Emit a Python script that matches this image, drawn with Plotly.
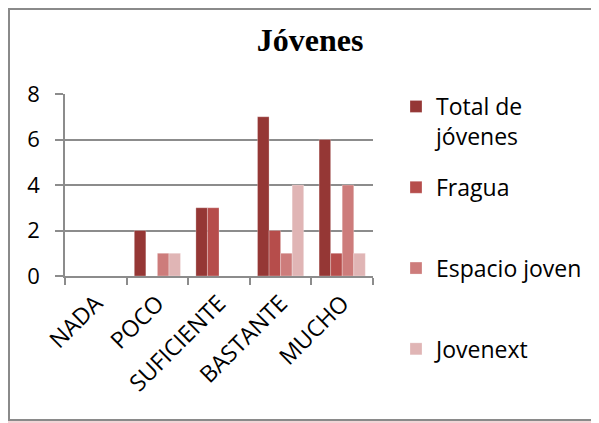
import plotly.graph_objects as go

categories = ["NADA", "POCO", "SUFICIENTE", "BASTANTE", "MUCHO"]
series_names = ["Total de<br>jóvenes", "Fragua<br> ", "Espacio joven<br> ", "Jovenext<br> "]
total_jovenes = [0, 2, 3, 7, 6]
fragua = [0, 0, 3, 2, 1]
espacio_joven = [0, 1, 0, 1, 4]
jovenext = [0, 1, 0, 4, 1]
series_values = [total_jovenes, fragua, espacio_joven, jovenext]
series_colors = ["#953735", "#b64d4b", "#cd7c7b", "#e0b5b5"]

W, H = 599, 423
# the page body adds an 8px margin, so positions below are window pixels minus 8
OFF = 8
PLOT_L, PLOT_R, PLOT_T, PLOT_B = 65 - OFF, 373 - OFF, 94 - OFF, 276 - OFF
FONT = "'Open Sans', Lato, sans-serif"


def px_x(x):
    return (x - OFF - PLOT_L) / (PLOT_R - PLOT_L)


def px_y(y):
    return (PLOT_B - (y - OFF)) / (PLOT_B - PLOT_T)


fig = go.Figure()
for i, (name, values, color) in enumerate(zip(series_names, series_values, series_colors)):
    fig.add_trace(
        go.Bar(
            x=categories,
            y=values,
            name=name,
            legendgroup=f"g{i}",
            marker={"color": color, "line": {"color": "rgba(255,255,255,0.45)", "width": 0.6}},
        )
    )

# white chart area with grey frame
fig.add_shape(
    type="rect",
    xref="paper",
    yref="paper",
    x0=px_x(9),
    x1=px_x(620),
    y0=px_y(420),
    y1=px_y(9),
    line={"color": "#8a8a8a", "width": 2},
    fillcolor="white",
    layer="below",
)

fig.update_layout(
    width=W,
    height=H,
    barmode="group",
    bargap=0.25,
    bargroupgap=0,
    paper_bgcolor="#f2d4d6",
    plot_bgcolor="white",
    margin={"l": PLOT_L, "r": W - PLOT_R, "t": PLOT_T, "b": H - PLOT_B, "pad": 0},
    font={"family": FONT, "color": "#000000", "size": 22},
    title={
        "text": "<b>Jóvenes</b>",
        "font": {"family": "'Liberation Serif', 'Times New Roman', serif", "size": 32, "color": "#000000"},
        "xref": "paper",
        "x": px_x(310),
        "xanchor": "center",
        "yref": "container",
        "y": 1 - (40 - OFF) / H,
        "yanchor": "middle",
    },
    legend={
        "x": px_x(396),
        "xanchor": "left",
        "y": px_y(85),
        "yanchor": "top",
        "maxheight": 400,
        "traceorder": "grouped",
        "tracegroupgap": 18,
        "valign": "top",
        "bgcolor": "rgba(0,0,0,0)",
        "font": {"family": FONT, "size": 23, "color": "#000000"},
    },
    showlegend=True,
)

fig.update_xaxes(
    type="category",
    showgrid=False,
    showline=True,
    linecolor="#8c8c8c",
    linewidth=1.5,
    ticks="outside",
    tickson="boundaries",
    ticklen=7,
    tickcolor="#8c8c8c",
    tickwidth=1.5,
    tickangle=-45,
    ticklabelstandoff=3,
    tickfont={"family": FONT, "size": 23},
)
fig.update_yaxes(
    range=[0, 8],
    dtick=2,
    showgrid=True,
    gridcolor="#8c8c8c",
    gridwidth=1.5,
    showline=True,
    linecolor="#8c8c8c",
    linewidth=1.5,
    ticks="outside",
    ticklen=8,
    tickcolor="#8c8c8c",
    tickwidth=1.5,
    ticklabelstandoff=11,
    zeroline=False,
    tickfont={"family": FONT, "size": 22},
)

fig.write_html("out.html")
